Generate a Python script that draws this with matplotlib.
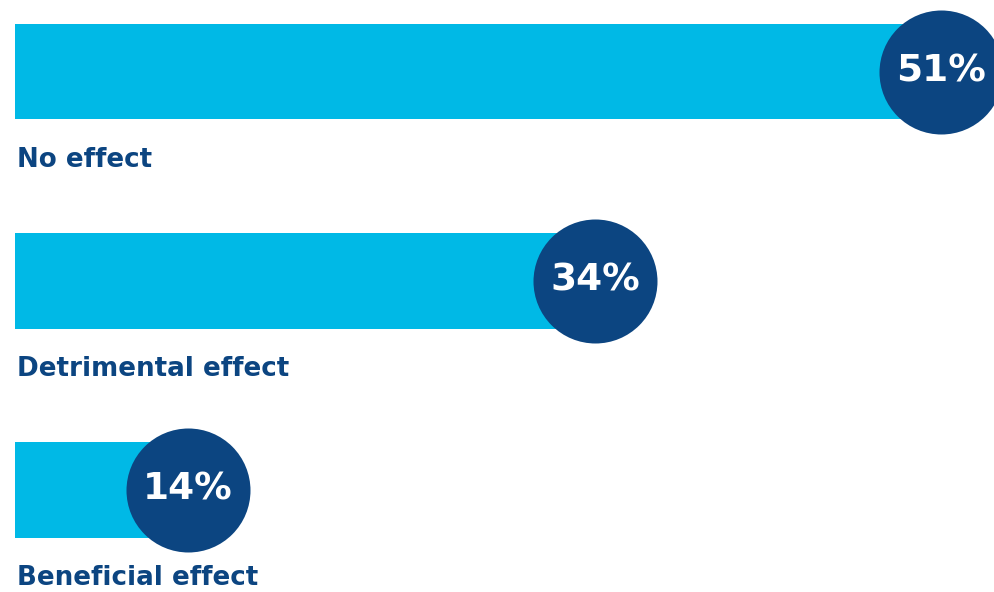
import matplotlib
matplotlib.use("Agg")
import matplotlib.pyplot as plt

categories = ["No effect", "Detrimental effect", "Beneficial effect"]
values = [51, 34, 14]
value_labels = ["51%", "34%", "14%"]

BAR_COLOR = "#00B9E6"
NAVY = "#0C4581"

W, H = 994, 592
fig = plt.figure(figsize=(W / 100, H / 100), dpi=100)
fig.patch.set_facecolor("white")

left_px = 15
ax = fig.add_axes([left_px / W, 0, 1 - left_px / W, 1])
ax.set_xlim(5.5, 53.6)
ax.set_ylim(2.488, -0.344)
ax.axis("off")

ypos = list(range(len(categories)))
ax.barh(ypos, values, height=0.455, color=BAR_COLOR, left=0)

px_per_pt = 100 / 72
diam_pt = 124 / px_per_pt
ax.scatter(values, ypos, s=diam_pt ** 2, color=NAVY, zorder=3, clip_on=False,
           linewidths=0)

for y, v, lab, cat in zip(ypos, values, value_labels, categories):
    ax.text(v, y, lab, color="white", fontsize=27, fontweight="bold",
            ha="center", va="center", zorder=4, family="DejaVu Sans")
    ax.text(5.6, y + 0.42, cat, color=NAVY, fontsize=18.8, fontweight="bold",
            ha="left", va="center", family="DejaVu Sans")

fig.savefig("out.png", dpi=100, facecolor="white")
